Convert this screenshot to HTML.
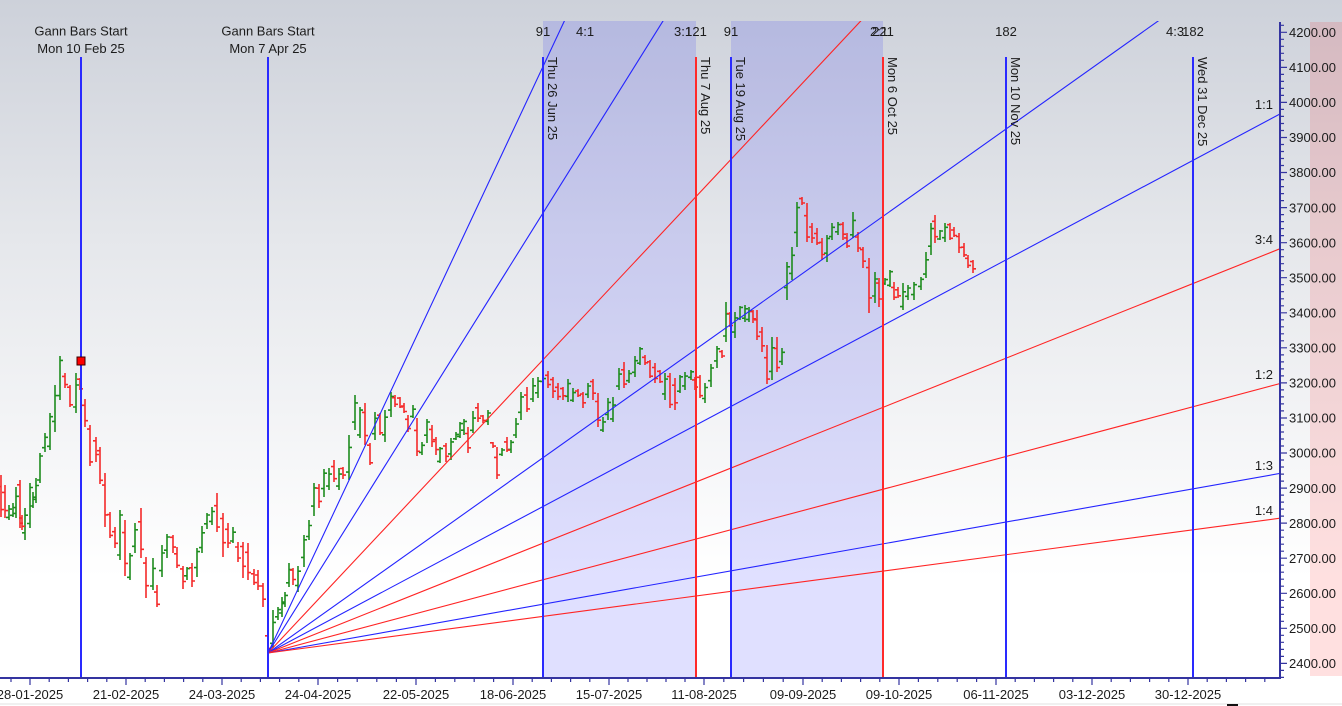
<!DOCTYPE html>
<html><head><meta charset="utf-8">
<style>
html,body{margin:0;padding:0;background:#fff;overflow:hidden;}
svg{display:block;font-family:"Liberation Sans",Arial,sans-serif;}
</style></head>
<body>
<svg id="c" width="1342" height="706" viewBox="0 0 1342 706" xmlns="http://www.w3.org/2000/svg">
<defs>
<linearGradient id="bg" x1="0" y1="0" x2="0" y2="1">
 <stop offset="0" stop-color="#cdd1da"/>
 <stop offset="0.35" stop-color="#e5e7eb"/>
 <stop offset="0.85" stop-color="#ffffff"/>
 <stop offset="1" stop-color="#ffffff"/>
</linearGradient>
<clipPath id="pc"><rect x="0" y="21" width="1279" height="657"/></clipPath>
</defs>
<rect x="0" y="0" width="1342" height="706" fill="#ffffff"/>
<rect x="0" y="0" width="1342" height="680" fill="url(#bg)"/>
<line x1="0" y1="704" x2="1342" y2="704" stroke="#e2e2e2" stroke-width="1"/>
<rect x="1227" y="704" width="11" height="2" fill="#111"/>

<!-- shaded regions -->
<rect x="543" y="21" width="153" height="657" fill="rgba(0,0,255,0.12)"/>
<rect x="731" y="21" width="152" height="657" fill="rgba(0,0,255,0.12)"/>
<rect x="1310" y="22" width="32" height="654" fill="rgba(255,0,0,0.12)"/>

<!-- bars -->
<path id="gb" d="" stroke="#1e8c1e" stroke-width="1.6" fill="none"/>
<path id="rb" d="" stroke="#f42a2a" stroke-width="1.6" fill="none"/>

<!-- fan lines -->
<g clip-path="url(#pc)" stroke-width="1.1" fill="none">
 <line x1="268" y1="653" x2="668" y2="-200" stroke="#2424ff"/>
 <line x1="268" y1="653" x2="768" y2="-147" stroke="#2424ff"/>
 <line x1="268" y1="653" x2="1068" y2="-200" stroke="#ff2424"/>
 <line x1="268" y1="653" x2="1368" y2="-128" stroke="#2424ff"/>
 <line x1="268" y1="653" x2="1368" y2="67.1" stroke="#2424ff"/>
 <line x1="268" y1="653" x2="1368" y2="213.6" stroke="#ff2424"/>
 <line x1="268" y1="653" x2="1368" y2="360.1" stroke="#ff2424"/>
 <line x1="268" y1="653" x2="1368" y2="457.8" stroke="#2424ff"/>
 <line x1="268" y1="653" x2="1368" y2="506.5" stroke="#ff2424"/>
</g>

<!-- vertical lines -->
<g stroke-width="2">
 <line x1="81" y1="57" x2="81" y2="678" stroke="#2a2aff"/>
 <line x1="268" y1="57" x2="268" y2="678" stroke="#2a2aff"/>
 <line x1="543" y1="57" x2="543" y2="678" stroke="#2a2aff"/>
 <line x1="696" y1="57" x2="696" y2="678" stroke="#ff2a2a"/>
 <line x1="731" y1="57" x2="731" y2="678" stroke="#2a2aff"/>
 <line x1="883" y1="57" x2="883" y2="678" stroke="#ff2a2a"/>
 <line x1="1006" y1="57" x2="1006" y2="678" stroke="#2a2aff"/>
 <line x1="1193" y1="57" x2="1193" y2="678" stroke="#2a2aff"/>
</g>
<rect x="77" y="357" width="8" height="8" fill="#ff0000" stroke="#3a0000" stroke-width="1"/>

<!-- top texts -->
<g font-size="13" fill="#1c1c1c">
 <text x="81" y="35.5" text-anchor="middle">Gann Bars Start</text>
 <text x="81" y="53" text-anchor="middle">Mon 10 Feb 25</text>
 <text x="268" y="35.5" text-anchor="middle">Gann Bars Start</text>
 <text x="268" y="53" text-anchor="middle">Mon 7 Apr 25</text>
 <text x="543" y="36" text-anchor="middle">91</text>
 <text x="576" y="36">4:1</text>
 <text x="674" y="36">3:1</text>
 <text x="696" y="36" text-anchor="middle">121</text>
 <text x="731" y="36" text-anchor="middle">91</text>
 <text x="870" y="36">2:1</text>
 <text x="883" y="36" text-anchor="middle">221</text>
 <text x="1006" y="36" text-anchor="middle">182</text>
 <text x="1166" y="36">4:3</text>
 <text x="1193" y="36" text-anchor="middle">182</text>
 <text transform="translate(548,57) rotate(90)">Thu 26 Jun 25</text>
 <text transform="translate(701,57) rotate(90)">Thu 7 Aug 25</text>
 <text transform="translate(736,57) rotate(90)">Tue 19 Aug 25</text>
 <text transform="translate(888,57) rotate(90)">Mon 6 Oct 25</text>
 <text transform="translate(1011,57) rotate(90)">Mon 10 Nov 25</text>
 <text transform="translate(1198,57) rotate(90)">Wed 31 Dec 25</text>
 <text x="1273" y="109" text-anchor="end">1:1</text>
 <text x="1273" y="244" text-anchor="end">3:4</text>
 <text x="1273" y="379" text-anchor="end">1:2</text>
 <text x="1273" y="470" text-anchor="end">1:3</text>
 <text x="1273" y="515" text-anchor="end">1:4</text>
</g>

<!-- axes -->
<g id="axes" stroke="#3434a0" fill="none">
 <line x1="0" y1="678" x2="1281" y2="678" stroke-width="2"/>
 <line x1="1280" y1="22" x2="1280" y2="679" stroke-width="2"/>
 <path id="rt" d="" stroke-width="1.2"/>
 <path id="bt" d="" stroke-width="1.2"/>
</g>
<g id="ylab" font-size="13" fill="#1c1c1c"></g>
<g id="xlab" font-size="13" fill="#1c1c1c"></g>
</svg>
<script>
(function(){
var B=[[1,475,517,0],[5,485,518,0],[9,505,520,1],[13,503,517,1],[16,487,518,1],[20,480,528,0],[22,515,530,0],[25,508,540,1],[30,483,528,1],[33,492,508,1],[36,478,503,1],[40,453,483,1],[45,433,452,1],[50,413,450,1],[55,385,432,1],[60,356,400,1],[65,373,388,0],[70,385,407,0],[76,373,413,1],[80,378,390,0],[85,399,427,0],[90,425,466,0],[96,437,462,0],[100,447,484,0],[105,473,527,0],[110,512,538,0],[115,527,548,0],[120,510,560,1],[125,520,576,0],[130,553,580,1],[135,523,553,1],[141,508,558,0],[146,557,598,0],[153,558,590,1],[157,585,607,0],[162,545,577,1],[167,534,558,1],[173,535,553,0],[177,547,568,0],[183,566,589,0],[187,567,580,1],[192,563,587,0],[197,548,577,1],[202,526,553,1],[207,513,529,1],[212,507,525,1],[217,493,532,0],[223,513,557,0],[228,523,548,0],[233,527,543,1],[238,542,562,0],[243,542,578,0],[248,543,580,0],[254,569,585,0],[258,570,590,0],[263,583,607,0],[268,630,653,0],
[273,610,648,1],[278,607,620,1],[282,597,617,1],[285,592,607,1],[289,563,587,1],[293,568,585,0],[298,566,592,1],[304,535,567,1],[309,520,540,1],[314,483,516,1],[319,484,508,0],[324,469,497,1],[329,468,490,1],[334,460,482,0],[339,468,490,1],[343,467,479,0],[349,435,480,1],[355,395,430,1],[360,407,438,1],[365,403,445,0],[370,443,465,0],[375,412,440,1],[380,413,435,0],[385,410,442,1],[391,392,417,1],[395,395,407,0],[400,397,408,0],[404,403,413,0],[408,415,432,0],[413,405,418,1],[417,418,456,0],[422,442,455,1],[427,419,443,1],[432,425,447,0],[436,437,455,0],[440,447,463,1],[446,443,462,0],[451,438,460,1],[456,432,440,1],[460,422,438,1],[464,419,435,1],[468,427,453,0],[473,411,433,1],[478,403,422,0],[483,415,423,0],[488,410,425,1],[493,442,448,0],[497,447,479,0],[502,448,456,1],[507,437,452,0],[511,440,453,1],[516,418,438,1],
[521,392,420,1],[527,387,412,0],[533,378,402,1],[538,377,398,1],[543,377,382,1],[548,371,388,0],[553,377,398,0],[558,383,400,0],[563,387,400,0],[568,379,402,1],[573,388,402,1],[578,389,397,0],[583,392,408,0],[588,383,398,1],[593,379,400,0],[598,393,427,0],[603,417,432,1],[608,398,420,1],[613,397,422,1],[619,368,390,1],[624,362,388,0],[629,370,383,1],[635,356,377,1],[640,347,365,1],[645,355,365,0],[650,360,378,0],[655,363,383,0],[660,370,383,0],[665,373,400,1],[670,373,408,0],[675,378,410,0],[680,375,393,1],[685,372,390,1],[691,370,380,1],[695,377,390,0],[700,375,398,0],[705,383,403,1],[711,364,387,1],[717,346,368,1],[722,350,358,0],[726,302,342,1],[730,312,327,0],[735,312,338,1],[740,306,320,1],[745,305,322,1],[749,307,322,1],[753,310,323,0],[757,310,340,0],[762,327,352,0],[767,345,384,0],[772,337,380,1],[777,337,372,0],[782,348,365,1],
[787,262,300,1],[792,247,280,1],[797,202,247,1],[802,197,205,0],[807,203,242,0],[812,223,243,0],[817,228,245,0],[822,238,260,0],[827,235,262,1],[832,223,240,1],[838,222,235,1],[843,222,240,0],[847,233,248,0],[853,212,238,1],[858,232,252,0],[863,247,268,0],[869,258,313,0],[875,272,303,1],[879,278,307,0],[885,278,285,1],[890,270,287,1],[894,282,300,0],[898,287,298,0],[903,283,310,1],[908,285,300,1],[914,282,300,1],[921,277,290,1],[926,252,278,1],[931,223,255,1],[935,215,243,0],[940,230,240,1],[945,223,242,1],[950,223,240,0],[954,227,237,0],[959,233,253,0],[964,243,257,0],[968,255,268,0],[973,260,273,0]];
var g='',r='';
for(var i=0;i<B.length;i++){var b=B[i],x=b[0],h=b[1],l=b[2],c=b[3],d=l-h;
 var f1=0.1+((x*37)%10)/40, f2=0.1+((x*53)%10)/40, o, cl;
 if(c){o=l-d*f1;cl=h+d*f2;}else{o=h+d*f1;cl=l-d*f2;}
 var s='M'+x+' '+h+'V'+l+'M'+(x-3)+' '+o.toFixed(1)+'H'+x+'M'+x+' '+cl.toFixed(1)+'H'+(x+3);
 if(c)g+=s;else r+=s;}
document.getElementById('gb').setAttribute('d',g);
document.getElementById('rb').setAttribute('d',r);
var NS='http://www.w3.org/2000/svg';
var rt='',yl=document.getElementById('ylab');
function yp(p){return 32.3+(4200-p)*0.3506;}
for(var p=2360;p<=4220;p+=20){var y=yp(p).toFixed(1);var maj=(p%100===0);rt+='M1280 '+y+'H'+(maj?1287:1284);
 if(maj){var t=document.createElementNS(NS,'text');t.setAttribute('x','1289');t.setAttribute('y',(yp(p)+4.7).toFixed(1));t.textContent=p+'.00';yl.appendChild(t);}}
document.getElementById('rt').setAttribute('d',rt);
var C=[30,126,222,318,416,513,609,704,803,899,996,1092,1188];
var L=["28-01-2025","21-02-2025","24-03-2025","24-04-2025","22-05-2025","18-06-2025","15-07-2025","11-08-2025","09-09-2025","09-10-2025","06-11-2025","03-12-2025","30-12-2025"];
var bt='',xl=document.getElementById('xlab');
bt+='M11 679V682';
for(var k=0;k<C.length;k++){bt+='M'+C[k]+' 679V685';
 var nx=(k<C.length-1)?C[k+1]:C[k]+96;
 for(var m=1;m<5;m++){var xx=C[k]+(nx-C[k])*m/5;if(xx<1278)bt+='M'+xx.toFixed(1)+' 679V682';}
 var t=document.createElementNS(NS,'text');t.setAttribute('x',C[k]);t.setAttribute('y','699');t.setAttribute('text-anchor','middle');t.textContent=L[k];xl.appendChild(t);}
document.getElementById('bt').setAttribute('d',bt);
})();
</script>
</body></html>
